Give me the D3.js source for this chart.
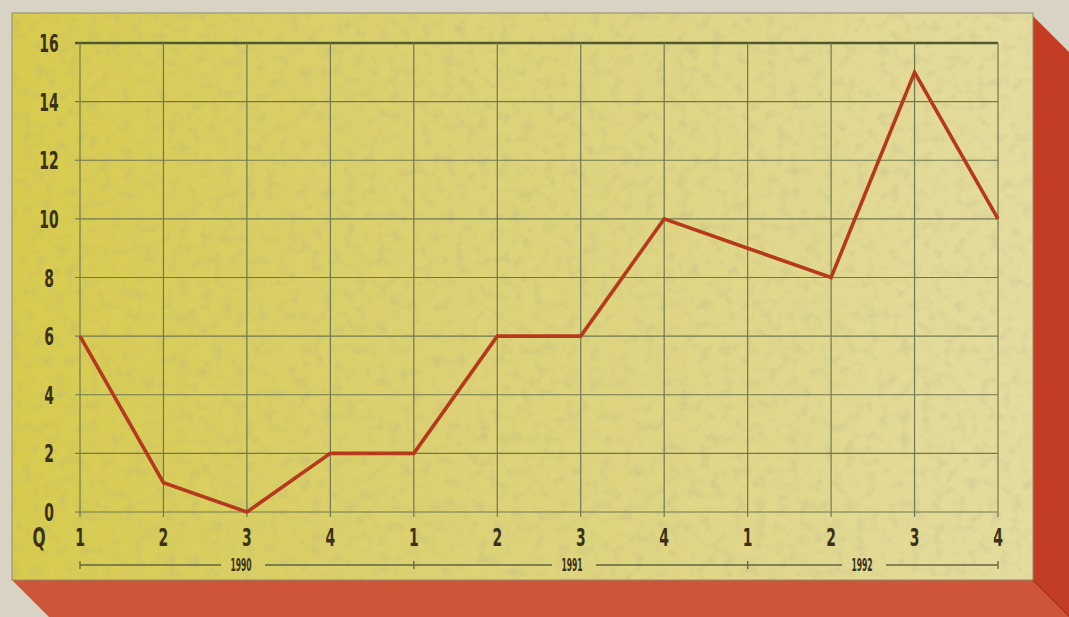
<!DOCTYPE html>
<html>
<head>
<meta charset="utf-8">
<script src="https://cdn.jsdelivr.net/npm/d3@7"></script>
<style>
  html, body { margin: 0; padding: 0; background: #d9d3c3; }
  svg { display: block; }
  .lbl { font-family: "Liberation Sans Narrow", "DejaVu Sans Condensed", sans-serif; font-weight: bold; fill: #3b3116; }
</style>
</head>
<body>
<svg id="chart" width="1069" height="617"></svg>
<script>
'use strict';

// data
var quarters = ['1', '2', '3', '4', '1', '2', '3', '4', '1', '2', '3', '4'];
var values = [6, 1, 0, 2, 2, 6, 6, 10, 9, 8, 15, 10];
var yTicks = [0, 2, 4, 6, 8, 10, 12, 14, 16];
var years = ['1990', '1991', '1992'];

var svg = d3.select('#chart');
var W = 1069, H = 617;

var panel = {left: 12, top: 13, right: 1033, bottom: 580};
var depth = 38;

var defs = svg.append('defs');
var grad = defs.append('linearGradient').attr('id', 'paper')
  .attr('x1', '0%').attr('x2', '100%').attr('y1', '0%').attr('y2', '0%');
grad.append('stop').attr('offset', '0%').attr('stop-color', '#d7cb4e');
grad.append('stop').attr('offset', '45%').attr('stop-color', '#dcd276');
grad.append('stop').attr('offset', '100%').attr('stop-color', '#e4dc9e');

// faint paper fibres
var filt = defs.append('filter').attr('id', 'fibre');
filt.append('feTurbulence').attr('type', 'fractalNoise')
  .attr('baseFrequency', '0.09').attr('numOctaves', 2).attr('seed', 4);
filt.append('feColorMatrix').attr('type', 'matrix')
  .attr('values', '0 0 0 0 0.4  0 0 0 0 0.38  0 0 0 0 0.25  0 0 0 -2.2 1.15');
filt.append('feComposite').attr('in2', 'SourceGraphic').attr('operator', 'in');

// background
svg.append('rect').attr('width', W).attr('height', H).attr('fill', '#d9d3c3');

// 3D box faces
svg.append('polygon')
  .attr('points', [
    [panel.left, panel.bottom], [panel.right, panel.bottom],
    [panel.right + depth, panel.bottom + depth], [panel.left + depth, panel.bottom + depth]
  ].join(' '))
  .attr('fill', '#cd5638');
svg.append('polygon')
  .attr('points', [
    [panel.right, panel.top + 3], [panel.right + depth, panel.top + 3 + depth],
    [panel.right + depth, panel.bottom + depth], [panel.right, panel.bottom]
  ].join(' '))
  .attr('fill', '#c33d24');
svg.append('line')
  .attr('x1', panel.right).attr('y1', panel.bottom)
  .attr('x2', panel.right + depth).attr('y2', panel.bottom + depth)
  .attr('stroke', '#a8321d').attr('stroke-width', 1.5);

// panel
svg.append('rect')
  .attr('x', panel.left).attr('y', panel.top)
  .attr('width', panel.right - panel.left).attr('height', panel.bottom - panel.top)
  .attr('fill', 'url(#paper)').attr('stroke', '#8f8a70').attr('stroke-width', 1);
svg.append('rect')
  .attr('x', panel.left).attr('y', panel.top)
  .attr('width', panel.right - panel.left).attr('height', panel.bottom - panel.top)
  .attr('fill', '#fff').attr('filter', 'url(#fibre)').attr('opacity', 0.25);

var x = d3.scaleLinear().domain([0, quarters.length - 1]).range([80, 998]);
var y = d3.scaleLinear().domain([0, 16]).range([512, 43]);

var gridColor = '#6f7852';
var g = svg.append('g');

// horizontal grid
g.selectAll('line.h').data(yTicks).enter().append('line')
  .attr('class', 'h')
  .attr('x1', x(0) - 5).attr('x2', x(quarters.length - 1))
  .attr('y1', function(d) { return y(d); }).attr('y2', function(d) { return y(d); })
  .attr('stroke', function(d) { return d === 16 ? '#4f5a30' : gridColor; })
  .attr('stroke-width', function(d) { return d === 16 ? 2.4 : 1.2; });

// vertical grid
g.selectAll('line.v').data(quarters).enter().append('line')
  .attr('class', 'v')
  .attr('x1', function(d, i) { return x(i); }).attr('x2', function(d, i) { return x(i); })
  .attr('y1', y(16)).attr('y2', y(0) + 5)
  .attr('stroke', gridColor).attr('stroke-width', 1.2);

// y labels
g.selectAll('text.yl').data(yTicks).enter().append('text')
  .attr('class', 'lbl')
  .attr('transform', function(d) { return 'translate(49,' + (y(d) + 9) + ') scale(0.62,1)'; })
  .attr('text-anchor', 'middle')
  .attr('font-size', 25)
  .text(function(d) { return d; });

// x labels
g.selectAll('text.xl').data(quarters).enter().append('text')
  .attr('class', 'lbl')
  .attr('transform', function(d, i) { return 'translate(' + x(i) + ',546) scale(0.62,1)'; })
  .attr('text-anchor', 'middle')
  .attr('font-size', 25)
  .text(function(d) { return d; });

svg.append('text').attr('class', 'lbl')
  .attr('transform', 'translate(39,547) scale(0.66,1)')
  .attr('text-anchor', 'middle').attr('font-size', 26)
  .text('Q');

// year bracket line
var yy = 565;
var yearPos = [[0, 4], [4, 8], [8, 11]];
var yearCenters = [241, 572, 862];
var bracket = svg.append('g').attr('stroke', '#5f6640').attr('stroke-width', 1.3);
yearPos.forEach(function(p, i) {
  var c = yearCenters[i];
  bracket.append('line').attr('x1', x(p[0])).attr('x2', c - 20).attr('y1', yy).attr('y2', yy);
  bracket.append('line').attr('x1', c + 24).attr('x2', x(p[1])).attr('y1', yy).attr('y2', yy);
});
[0, 4, 8, 11].forEach(function(i) {
  bracket.append('line').attr('x1', x(i)).attr('x2', x(i)).attr('y1', yy - 4).attr('y2', yy + 4);
});
svg.selectAll('text.yr').data(years).enter().append('text')
  .attr('class', 'lbl')
  .attr('transform', function(d, i) { return 'translate(' + yearCenters[i] + ',' + (yy + 6) + ') scale(0.5,1)'; })
  .attr('text-anchor', 'middle')
  .attr('font-size', 17)
  .text(function(d) { return d; });

// the series
var line = d3.line()
  .x(function(d, i) { return x(i); })
  .y(function(d) { return y(d); });
svg.append('path')
  .datum(values)
  .attr('d', line)
  .attr('fill', 'none')
  .attr('stroke', '#b53a1d')
  .attr('stroke-width', 3.6)
  .attr('stroke-linejoin', 'miter');
</script>
</body>
</html>
